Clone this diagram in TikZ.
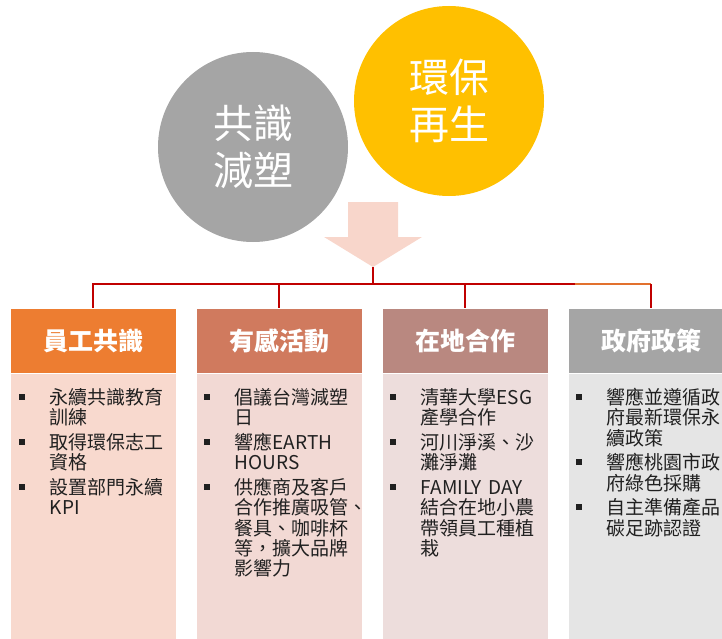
\documentclass[tikz,border=0pt]{standalone}
\usepackage{fontspec}
\setmainfont{Noto Sans CJK TC}
\usetikzlibrary{calc}
\definecolor{cgray}{HTML}{A5A5A5}
\definecolor{cyellow}{HTML}{FFC000}
\definecolor{arrowc}{HTML}{F8D6CB}
\definecolor{lineRed}{HTML}{C00000}
\definecolor{lineOrange}{HTML}{E2712E}
\definecolor{hA}{HTML}{ED7D31}
\definecolor{hB}{HTML}{D07A5E}
\definecolor{hC}{HTML}{B98880}
\definecolor{hD}{HTML}{A5A5A5}
\definecolor{bA}{HTML}{F8D9CE}
\definecolor{bB}{HTML}{F2D9D4}
\definecolor{bC}{HTML}{EDDDDC}
\definecolor{bD}{HTML}{E5E5E5}
\definecolor{txt}{HTML}{202020}
\newcommand\mybul{\raisebox{4.8pt}{\rule{6pt}{6pt}}}
\newcommand\myitem[1]{\par\hangindent=31pt\hangafter=1\noindent\makebox[31pt][l]{\mybul}#1\par}
\begin{document}
\begin{tikzpicture}[x=1pt,y=-1pt,
  hdr/.style={draw=white, line width=0.8pt, minimum width=166pt, minimum height=65pt, inner sep=0pt, text=white, font=\fontsize{25}{30}\selectfont\bfseries},
  bodybox/.style={draw=white, line width=0.8pt, minimum width=166pt, minimum height=266pt, inner sep=0pt, anchor=north},
  items/.style={anchor=north west, inner sep=0pt, text=txt, text width=150pt, font=\fontsize{19}{20.3}\selectfont, execute at begin node={\setlength{\parskip}{4.5pt}}},
  conn/.style={draw=lineRed, line width=1.3pt},
  circ/.style={circle, inner sep=0pt, minimum size=190pt, text=white, align=center, font=\fontsize{40}{47}\selectfont}]
\useasboundingbox (0,0) rectangle (722,639);
\clip (0,0) rectangle (722,639);
% circles
\node[circ, fill=cgray] (c1) at (253,147) {共識\\減塑};
\node[circ, fill=cyellow] (c2) at (449,101) {環保\\再生};
% arrow
\fill[arrowc] (348,202) -- (398,202) -- (398,237) -- (422,237) -- (373,267) -- (324,237) -- (348,237) -- cycle;
\coordinate (tip) at (373,267);
\coordinate (bus) at (373,284);
\coordinate (split) at (575,284);
% headers
\node[hdr, fill=hA] (h1) at (93,340.5) {員工共識};
\node[hdr, fill=hB] (h2) at (279,340.5) {有感活動};
\node[hdr, fill=hC] (h3) at (465,340.5) {在地合作};
\node[hdr, fill=hD] (h4) at (651,340.5) {政府政策};
% bodies
\node[bodybox, fill=bA] (b1) at (h1.south) {};
\node[bodybox, fill=bB] (b2) at (h2.south) {};
\node[bodybox, fill=bC] (b3) at (h3.south) {};
\node[bodybox, fill=bD] (b4) at (h4.south) {};
% connectors
\draw[conn] (tip) -- (bus);
\draw[conn] (bus) -| (h1.north);
\draw[conn] (bus) -| (h2.north);
\draw[conn] (bus) -| (h3.north);
\draw[conn] (bus) -- (split);
\draw[conn, draw=lineOrange] (split) -- (split -| h4.north);
\draw[conn] (split -| h4.north) -- (h4.north);
% items
\node[items] (t1) at ($(b1.north west)+(9,6)$) {%
\myitem{永續共識教育\newline 訓練}%
\myitem{取得環保志工\newline 資格}%
\myitem{設置部門永續\newline KPI}};
\node[items] (t2) at ($(b2.north west)+(8,6)$) {%
\myitem{倡議台灣減塑\newline 日}%
\myitem{響應EARTH\newline HOURS}%
\myitem{供應商及客戶\newline 合作推廣吸管、\newline 餐具、咖啡杯\newline 等，擴大品牌\newline 影響力}};
\node[items] (t3) at ($(b3.north west)+(8,6)$) {%
\myitem{清華大學ESG\newline 產學合作}%
\myitem{河川淨溪、沙\newline 灘淨灘}%
\myitem{FAMILY DAY\newline 結合在地小農\newline 帶領員工種植\newline 栽}};
\node[items] (t4) at ($(b4.north west)+(8,6)$) {%
\myitem{響應並遵循政\newline 府最新環保永\newline 續政策}%
\myitem{響應桃園市政\newline 府綠色採購}%
\myitem{自主準備產品\newline 碳足跡認證}};
\end{tikzpicture}
\end{document}
